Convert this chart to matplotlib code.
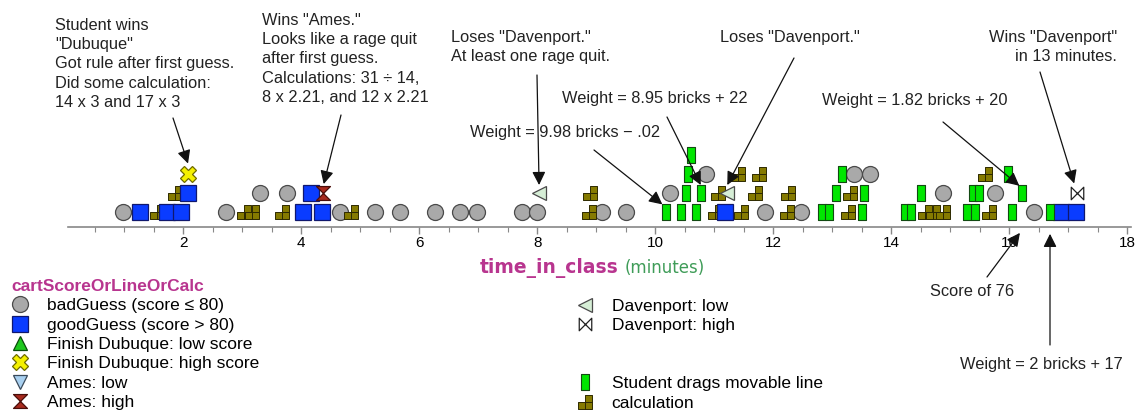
import numpy as np
import matplotlib
matplotlib.use("Agg")
import matplotlib.pyplot as plt
from matplotlib.path import Path
from matplotlib.lines import Line2D
from matplotlib.ticker import MultipleLocator

plt.rcParams["font.family"] = ["Liberation Sans", "DejaVu Sans"]

# time_in_class (minutes) and stack position of each case in the dot plot
bad_time = [0.98, 2.73, 3.30, 3.75, 4.66, 5.25, 5.67, 6.27, 6.69, 6.97, 7.74, 8.00,
            9.09, 9.50, 10.25, 10.86, 11.86, 12.47, 13.36, 13.64, 14.88, 15.76, 16.42]
bad_stack = [0, 0, 1, 1, 0, 0, 0, 0, 0, 0, 0, 0,
             0, 0, 1, 2, 0, 0, 2, 2, 1, 1, 0]

good_time = [1.27, 1.72, 1.96, 2.08, 4.03, 4.16, 4.35, 11.18, 16.88, 17.13]
good_stack = [0, 0, 0, 1, 0, 1, 0, 0, 0, 0]

line_time = [10.18, 10.44, 10.69, 12.82, 12.94, 13.50, 14.24, 14.34, 15.29, 15.42, 16.05, 16.69,
             10.52, 10.77, 13.06, 13.54, 14.50, 15.38, 15.49, 16.22,
             10.55, 13.16, 15.97,
             10.60]
line_stack = [0] * 12 + [1] * 8 + [2] * 3 + [3]

calc_time = [1.55, 3.03, 3.16, 3.67, 4.85, 8.87, 11.01, 11.46, 12.23, 13.27, 14.57, 14.71, 14.87, 15.66,
             1.86, 8.89, 11.07, 11.69, 12.25, 13.30,
             11.40, 11.76, 15.59]
calc_stack = [0] * 14 + [1] * 6 + [2] * 3

dub_high_time, dub_high_stack = [2.08], [2]
ames_high_time, ames_high_stack = [4.37], [1]
dav_low_time, dav_low_stack = [8.03, 11.22], [1, 1]
dav_high_time, dav_high_stack = [17.14], [1]

W, H = 1135, 412


def fig_xy(px, py):
    return (px / W, 1 - py / H)


# custom marker shapes
rect_m = Path([(-0.45, -1), (0.45, -1), (0.45, 1), (-0.45, 1), (-0.45, -1)],
              [Path.MOVETO, Path.LINETO, Path.LINETO, Path.LINETO, Path.CLOSEPOLY])


def _sq(x0, y0):
    return Path([(x0, y0), (x0 + 1, y0), (x0 + 1, y0 + 1), (x0, y0 + 1), (x0, y0)],
                [Path.MOVETO, Path.LINETO, Path.LINETO, Path.LINETO, Path.CLOSEPOLY])


calc_m = Path.make_compound_path(_sq(-1, -1), _sq(0, -1), _sq(0, 0))
hour_m = Path([(-1, 1), (1, 1), (-1, -1), (1, -1), (-1, 1)],
              [Path.MOVETO, Path.LINETO, Path.LINETO, Path.LINETO, Path.CLOSEPOLY])
bow_m = Path([(-1, -1), (-1, 1), (1, -1), (1, 1), (-1, -1)],
             [Path.MOVETO, Path.LINETO, Path.LINETO, Path.LINETO, Path.CLOSEPOLY])

styles = {
    "bad": dict(marker="o", ms=11.5, mfc="#a9a9a9", mec="#4a4a4a", mew=0.9),
    "good": dict(marker="s", ms=11.5, mfc="#0a3cff", mec="#10186e", mew=0.9),
    "dub_low": dict(marker="^", ms=10, mfc="#1ec81e", mec="#0a4a0a", mew=0.9),
    "dub_high": dict(marker="X", ms=12, mfc="#f4f000", mec="#6e6a00", mew=0.9),
    "ames_low": dict(marker="v", ms=10, mfc="#a8d0f0", mec="#3a4a5a", mew=0.9),
    "ames_high": dict(marker=hour_m, ms=10, mfc="#a82a1e", mec="#4a0e0a", mew=0.9),
    "dav_low": dict(marker="<", ms=10, mfc="#d6eed6", mec="#4a4a4a", mew=0.9),
    "dav_high": dict(marker=bow_m, ms=9, mfc="white", mec="#222222", mew=0.9),
    "line": dict(marker=rect_m, ms=11.5, mfc="#00e600", mec="#124a12", mew=0.8),
    "calc": dict(marker=calc_m, ms=10, mfc="#857a00", mec="#2e2a00", mew=0.7),
}

fig = plt.figure(figsize=(W / 100, H / 100), dpi=100)
x0, x1 = 0.04, 18.06
pxmin = 65.3 + x0 * 59
ax = fig.add_axes([pxmin / W, 1 - 227 / H, (x1 - x0) * 59 / W, 227 / H])
ax.set_xlim(x0, x1)
ybot = -15 / 19
ax.set_ylim(ybot, ybot + 227 / 19)

ax.plot(bad_time, bad_stack, ls="none", **styles["bad"])
ax.plot(calc_time, calc_stack, ls="none", **styles["calc"])
ax.plot(good_time, good_stack, ls="none", **styles["good"])
ax.plot(line_time, line_stack, ls="none", **styles["line"])
ax.plot(dub_high_time, dub_high_stack, ls="none", **styles["dub_high"])
ax.plot(ames_high_time, ames_high_stack, ls="none", **styles["ames_high"])
ax.plot(dav_low_time, dav_low_stack, ls="none", **styles["dav_low"])
ax.plot(dav_high_time, dav_high_stack, ls="none", **styles["dav_high"])

for s in ["top", "left", "right"]:
    ax.spines[s].set_visible(False)
ax.spines["bottom"].set_color("#888888")
ax.spines["bottom"].set_linewidth(1.2)
ax.set_yticks([])
ax.set_xticks(np.arange(2, 19, 2))
ax.xaxis.set_minor_locator(MultipleLocator(0.5))
ax.tick_params(axis="x", which="major", length=5, width=1, color="#888888",
               labelsize=11, pad=1.5)
ax.tick_params(axis="x", which="minor", length=3.5, width=0.8, color="#888888")
ax.patch.set_alpha(0)

# axis label
fig.text(*fig_xy(619, 268), "time_in_class", color="#b8358f", fontsize=13.5,
         fontweight="bold", ha="right", va="center", family="DejaVu Sans")
fig.text(*fig_xy(625, 268), "(minutes)", color="#3f9c58", fontsize=12,
         ha="left", va="center", family="DejaVu Sans")

# annotations
txt = dict(fontsize=11.8, color="#222222", linespacing=1.35)
fig.text(*fig_xy(55, 18), 'Student wins\n"Dubuque"\nGot rule after first guess.\n'
         'Did some calculation:\n14 x 3 and 17 x 3', ha="left", va="top", **txt)
fig.text(*fig_xy(262, 13), 'Wins "Ames."\nLooks like a rage quit\nafter first guess.\n'
         'Calculations: 31 \u00f7 14,\n8 x 2.21, and 12 x 2.21', ha="left", va="top", **txt)
fig.text(*fig_xy(451, 30), 'Loses "Davenport."\nAt least one rage quit.',
         ha="left", va="top", **txt)
fig.text(*fig_xy(720, 30), 'Loses "Davenport."', ha="left", va="top", **txt)
fig.text(*fig_xy(1117, 30), 'Wins "Davenport"\nin 13 minutes.', ha="right", va="top",
         multialignment="right", **txt)
fig.text(*fig_xy(562, 98), "Weight = 8.95 bricks + 22", ha="left", va="center", **txt)
fig.text(*fig_xy(470, 132), "Weight = 9.98 bricks \u2212 .02", ha="left", va="center", **txt)
fig.text(*fig_xy(822, 100), "Weight = 1.82 bricks + 20", ha="left", va="center", **txt)
fig.text(*fig_xy(972, 292), "Score of 76", ha="center", va="center", **txt)
fig.text(*fig_xy(960, 365), "Weight = 2 bricks + 17", ha="left", va="center", **txt)

arrows = [
    ((2.08, 2.55), (173, 118)),
    ((4.38, 1.47), (341, 115)),
    ((8.03, 1.42), (537, 75)),
    ((11.22, 1.42), (794, 58)),
    ((10.77, 1.42), (667, 117)),
    ((10.12, 0.40), (594, 150)),
    ((16.17, 1.38), (943, 122)),
    ((17.10, 1.50), (1040, 72)),
    ((16.18, -1.10), (987, 277)),
    ((16.69, -1.15), (1050, 345)),
]
for target, start in arrows:
    ax.annotate("", xy=target, xycoords="data", xytext=fig_xy(*start),
                textcoords="figure fraction", annotation_clip=False,
                arrowprops=dict(arrowstyle="-|>", color="#111111", lw=0.9,
                                mutation_scale=20, shrinkA=0, shrinkB=0))

# legend
def h(key):
    return Line2D([], [], ls="none", **styles[key])


blank = Line2D([], [], ls="none", marker=None)
leg_kw = dict(loc="upper left", frameon=False, fontsize=12.5, borderpad=0,
              borderaxespad=0, labelspacing=0.24, handlelength=1.0, handletextpad=1.05)
leg1 = fig.legend([h("bad"), h("good"), h("dub_low"), h("dub_high"), h("ames_low"), h("ames_high")],
                  ["badGuess (score \u2264 80)", "goodGuess (score > 80)",
                   "Finish Dubuque: low score", "Finish Dubuque: high score",
                   "Ames: low", "Ames: high"],
                  bbox_to_anchor=fig_xy(11, 279), title="cartScoreOrLineOrCalc",
                  alignment="left", title_fontproperties=dict(size=12.5, weight="bold"),
                  **leg_kw)
leg1.get_title().set_color("#b8358f")
fig.legend([h("dav_low"), h("dav_high"), blank, blank, h("line"), h("calc")],
           ["Davenport: low", "Davenport: high", " ", " ",
            "Student drags movable line", "calculation"],
           bbox_to_anchor=fig_xy(576, 299), **leg_kw)

fig.savefig("out.png", dpi=100)
